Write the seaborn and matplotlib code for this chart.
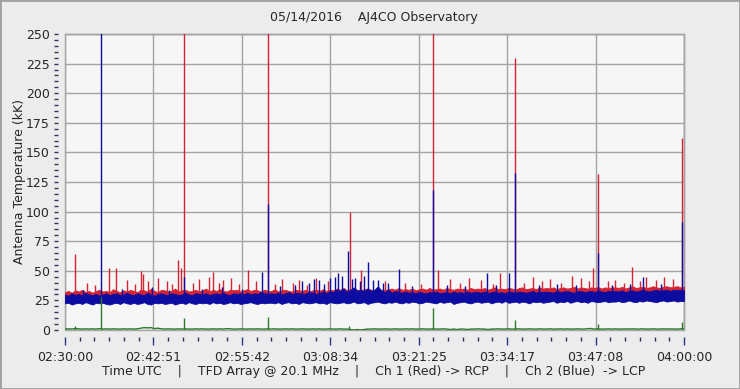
import numpy as np
import pandas as pd
import matplotlib
matplotlib.use("Agg")
import matplotlib.pyplot as plt
from matplotlib.patches import Rectangle
import seaborn as sns

sns.set_style("white")
plt.rcParams["font.family"] = ["DejaVu Sans"]

# ---------------- data (minutes after 02:30:00 UTC, 0.5 min bins) ----------------
tick_labels = ["02:30:00", "02:42:51", "02:55:42", "03:08:34",
               "03:21:25", "03:34:17", "03:47:08", "04:00:00"]

blue_lo = [22.5,23,21.5,22.5,23,22,23.5,22.5,21.5,23,22.5,23,22,21.5,22.5,23,22,23.5,22.5,22,
           23,22,22.5,23.5,22,21.5,23,22.5,23,22,22.5,23,21.5,22.5,23,22,23.5,22.5,22,23,
           22.5,23,22,23.5,22.5,23,22,22.5,23.5,22.5,23,22,22.5,23,23.5,22.5,22,23,22.5,23,
           23,22.5,23.5,22,23,23.5,22.5,23,22,23.5,23,22.5,23,23.5,22.5,23,22,23.5,23,22.5,
           23,23.5,22.5,23,24,22.5,23,23.5,22,23,23.5,24,23,22.5,23.5,23,24,23,22.5,23.5,
           23,24,23.5,22.5,23,24,23.5,23,22.5,24,23,23.5,24,22,23,23.5,24,23,22.5,23.5,
           24,23,23.5,24,22.5,23.5,24,23,24.5,23,23.5,24,23,24,23.5,22.5,24,23.5,24,23,
           23.5,24,24.5,23,24,23.5,24.5,23,24,24.5,23.5,24,23,24.5,24,23.5,24,24.5,23.5,24,
           24,24.5,23.5,24,25,24,23.5,24.5,24,25,24.5,24,23.5,24.5,25,24,24.5,25,24,24.5,
           24.5]
blue_hi = [30,29,31,29.5,30.5,29,31.5,30,29.5,30.5,29,30,31,29.5,30.5,31,29.5,30,31.5,30,
           29.5,31,30,29.5,31.5,30,29,30.5,31,30,29.5,31,30.5,29.5,30,31.5,30,29.5,31,30.5,
           30,31,29.5,30.5,31,30,31.5,30,29.5,31,30.5,31,30,31.5,30,31,30.5,32,31,30.5,
           31,30.5,31.5,30,31,32,30.5,31,31.5,30,31,32,31.5,30.5,31,32.5,31,33,32,34,
           33,35,32,34,36,33,34,32.5,35,33,34,37,33,32,34,31.5,33,32,31.5,32.5,
           31.5,32,31,32.5,31.5,31,32,31.5,32.5,31,31.5,32,31,32.5,31.5,32,31,32.5,31.5,32,
           32,31.5,32.5,31,32,32.5,31.5,32,31,32.5,32,31.5,32.5,32,31.5,32,33,31.5,32.5,32,
           32.5,32,31.5,33,32,32.5,33,32,31.5,32.5,33,32,32.5,33,32,33.5,32.5,32,33,32.5,
           33,32.5,33.5,32,33,33.5,32.5,33,34,33,32.5,33.5,34,33,33.5,34,33,34,33.5,34,
           33.5]
red_lo = [26,27,26.5,27,26,27.5,26.5,26,27,26.5,27,26,26.5,27.5,26,27,26.5,26,27,26.5,
          27,26.5,26,27,27.5,26,26.5,27,26,27.5,26.5,27,26,26.5,27,26,27.5,26.5,27,26,
          26.5,27,26,27.5,26.5,27,26,26.5,27,26.5,27.5,26,27,26.5,27,26,26.5,27.5,26,27,
          27,26.5,27.5,26,27,27.5,26.5,27,26,27.5,27,26.5,27,27.5,26.5,27,26,27.5,27,26.5,
          27,27.5,26.5,27,28,26.5,27,27.5,26,27,27.5,28,27,26.5,27.5,27,28,27,26.5,27.5,
          27,28,27.5,26.5,27,28,27.5,27,26.5,28,27,27.5,28,26,27,27.5,28,27,26.5,27.5,
          28,27,27.5,28,26.5,27.5,28,27,28.5,27,27.5,28,27,28,27.5,26.5,28,27.5,28,27,
          27.5,28,28.5,27,28,27.5,28.5,27,28,28.5,27.5,28,27,28.5,28,27.5,28,28.5,27.5,28,
          28,28.5,27.5,28,29,28,27.5,28.5,28,29,28.5,28,27.5,28.5,29,28,28.5,29,28,28.5,
          28.5]
red_hi = [32,33,31.5,33.5,32.5,34,32,33,31.5,33,34,32.5,33,32,34.5,33,32,33.5,32.5,34,
          33,32,34,33.5,32.5,35,33,32,34,33.5,32.5,33,35,32.5,33.5,34,32.5,33,34,32.5,
          33.5,35,32.5,34,33,34.5,33,32.5,34,33.5,34,32.5,33.5,34.5,33,34,33.5,32.5,34,33,
          33,34.5,32.5,33.5,34,33,32.5,34,33.5,33,34,32.5,33.5,34,33,34.5,33,34,33.5,35,
          34,35.5,33.5,34.5,35,34,33.5,34.5,35,34,33.5,35,34,33.5,34.5,35,34,35.5,34,34.5,
          34,35,33.5,34.5,35,34,35.5,34,34.5,35,34,35.5,34.5,34,35,34.5,35,34,35.5,34.5,
          35,34.5,35.5,34,35,36,34.5,35,34.5,35.5,35,34,35.5,36,34.5,35,35.5,34.5,36,35,
          35.5,35,36,34.5,35.5,36,35,35.5,36.5,35,36,35.5,35,36,35.5,36.5,35,36,35.5,36,
          36,35.5,36.5,35,36,37,35.5,36,36.5,35.5,36,37,36,35.5,36.5,37,36,36.5,37,36,
          36.5]
green = [0.8,1,0.8,1.2,1,0.8,1,0.8,1,0.8,1.2,0.8,1,0.8,1,0.8,0.8,1,0.8,1,
         0.8,1,1.5,2,1.8,2,1.2,1.5,1,0.8,1,0.8,0.8,1,0.8,1,0.8,0.8,1,0.8,
         1,0.8,0.8,1,0.8,1,0.8,1.2,1,0.8,0.8,1,0.8,0.8,1,0.8,1,0.8,0.8,1,
         0.8,1,0.8,0.8,1,0.8,1,0.8,0.8,1,0.8,0.8,1,0.8,1,0.8,0.8,1,0.8,0.8,
         1,0.8,0.8,0.4,0,0.4,0,0.4,0.8,0.8,1,0.8,0.8,1,0.8,0.8,1,0.8,0.8,1,
         0.8,1,0.8,0.8,1,0.8,0.8,1,0.8,0.8,1,0.8,0.4,0.8,0.4,0.8,0.8,0.4,0.8,0.8,
         1,0.8,0.8,0.4,0.8,0.8,1,0.8,0.8,1,0.8,0.8,1,0.8,0.8,1,0.8,0.8,1,0.8,
         0.8,1,0.8,0.8,1,0.8,1,0.8,0.8,1,0.8,0.8,1.2,1.2,0.8,1,0.8,0.8,1,0.8,
         1,0.8,0.8,1,0.8,1,0.8,0.8,1,0.8,0.8,1,0.8,0.8,1,0.8,1,0.8,0.8,1,
         1]

red_spike_t = [1.5, 3.2, 4.4, 6.4, 7.4, 9.0, 10.2, 11.1, 11.3, 12.1, 13.5, 14.8, 15.6,
               16.5, 16.9, 17.3, 18.6, 19.5, 20.9, 21.5, 22.4, 23.0, 24.1, 25.3, 26.6,
               27.8, 29.5, 30.6, 31.5, 33.1, 34.0, 35.2, 36.5, 38.2, 41.4, 43.0, 46.5,
               49.5, 51.8, 53.5, 54.2, 56.0, 57.4, 58.8, 60.5, 62.2, 63.2, 65.4, 66.8,
               68.0, 69.4, 70.5, 72.1, 73.7, 75.0, 76.2, 76.7, 77.5, 79.0, 80.0, 81.3,
               82.4, 83.6, 84.5, 86.0, 87.1, 88.4, 89.7]
red_spike_v = [64, 40, 38, 52.5, 52.5, 42, 39, 50, 47, 41, 44, 41, 39,
               59, 52.5, 260, 40, 43, 45, 49, 40, 42, 44, 39, 50.5,
               41, 260, 39, 43, 40, 42, 38, 44, 41, 100, 50.5, 41,
               40, 39, 260, 51, 43, 40, 44, 42, 39, 48.5, 230, 40,
               45, 41, 43, 40, 46, 44, 41, 52, 132, 41, 42, 40,
               53.5, 41, 45, 42, 45, 43, 162]
blue_spike_t = [2.6, 5.2, 8.3, 12.7, 15.1, 17.3, 19.9, 22.8, 25.7, 28.6, 29.5, 31.2,
                33.4, 34.4, 35.5, 36.2, 37.0, 37.7, 38.5, 39.2, 39.7, 40.3, 41.1,
                41.8, 42.2, 42.9, 43.5, 44.1, 44.8, 45.5, 46.3, 47.0, 48.6, 50.4,
                53.5, 55.6, 58.1, 61.3, 62.7, 64.6, 65.4, 68.9, 71.6, 74.3, 77.5,
                79.6, 82.2, 84.0, 86.7, 89.7]
blue_spike_v = [34, 260, 35, 36, 34, 45, 35, 36, 35, 49, 106, 37,
                38, 41, 40, 43, 42, 39, 44, 45, 48, 46, 67,
                43, 44, 41, 46, 57.5, 42, 42, 40, 40, 51.5, 37,
                118, 38, 37, 48, 38, 48, 133, 38, 39, 38, 65,
                38, 39, 45, 39, 91]
green_spike_t = [1.4, 5.2, 17.3, 29.5, 41.3, 53.5, 65.4, 77.5, 89.7]
green_spike_v = [3.5, 28, 10, 11, 3.5, 19, 8.5, 5, 7]

t = np.arange(len(blue_lo)) * 0.5
df = pd.DataFrame({"t": t, "red_lo": red_lo, "red_hi": red_hi,
                   "blue_lo": blue_lo, "blue_hi": blue_hi, "green": green})

RED = "#D42434"
BLUE = "#0C0CA0"
GREEN = "#2A7A2A"

W, H = 740, 389
fig = plt.figure(figsize=(W / 100, H / 100), dpi=100, facecolor="#ECECEC")
ax = fig.add_axes([65 / W, 1 - 330 / H, 619 / W, 296 / H])
ax.set_facecolor("#F6F6F6")

# red channel
ax.fill_between(df["t"], df["red_lo"], df["red_hi"], color=RED, lw=0.6,
                edgecolor=RED, zorder=3)
ax.vlines(red_spike_t, 30, red_spike_v, color=RED, lw=1, zorder=3)
# blue channel
ax.fill_between(df["t"], df["blue_lo"], df["blue_hi"], color=BLUE, lw=0.6,
                edgecolor=BLUE, zorder=4)
ax.vlines(blue_spike_t, 28, blue_spike_v, color=BLUE, lw=1, zorder=4)
# green
sns.lineplot(data=df, x="t", y="green", ax=ax, color=GREEN, lw=1, zorder=5)
ax.vlines(green_spike_t, 0, green_spike_v, color=GREEN, lw=1, zorder=5)

ax.set_xlim(0, 90)
ax.set_ylim(0, 250)
ax.set_xticks(np.linspace(0, 90, len(tick_labels)))
ax.set_xticklabels(tick_labels)
ax.set_xticks(np.linspace(0, 90, 6 * (len(tick_labels) - 1) + 1), minor=True)
ax.set_yticks(np.arange(0, 251, 25))
ax.set_yticks(np.arange(0, 251, 5), minor=True)
ax.set_xlabel("")
ax.set_ylabel("")

ax.grid(which="major", color="#A4A4A4", lw=1, zorder=1)
ax.set_axisbelow(True)

for s in ["left", "bottom"]:
    ax.spines[s].set_position(("outward", 5))
    ax.spines[s].set_visible(False)
for s in ["top", "right"]:
    ax.spines[s].set_color("#A4A4A4")
    ax.spines[s].set_linewidth(1)
ax.add_patch(Rectangle((0, 0), 1, 1, transform=ax.transAxes, fill=False,
                       edgecolor="#A4A4A4", lw=1, clip_on=False, zorder=2))

ax.tick_params(axis="y", which="both", direction="out", length=3, width=1,
               color="#333355", pad=3, labelsize=9, left=True)
ax.tick_params(axis="x", which="major", direction="out", length=6, width=1,
               color="#2A3A80", pad=4, labelsize=9, bottom=True)
ax.tick_params(axis="x", which="minor", direction="out", length=3, width=1,
               color="#333355", bottom=True)

fig.text(374 / W, 1 - 18 / H, "05/14/2016    AJ4CO Observatory",
         ha="center", va="center", fontsize=9)
fig.text(20 / W, 1 - 182 / H, "Antenna Temperature (kK)", rotation=90,
         ha="center", va="center", fontsize=9)
fig.text(374 / W, 1 - 372 / H,
         "Time UTC    |    TFD Array @ 20.1 MHz    |    Ch 1 (Red) -> RCP    |    Ch 2 (Blue)  -> LCP",
         ha="center", va="center", fontsize=9)

fig.patches.append(Rectangle((0, 0), 1, 1, transform=fig.transFigure, fill=False,
                             edgecolor="#A0A0A0", lw=2))

fig.savefig("out.png", dpi=100, facecolor=fig.get_facecolor())
